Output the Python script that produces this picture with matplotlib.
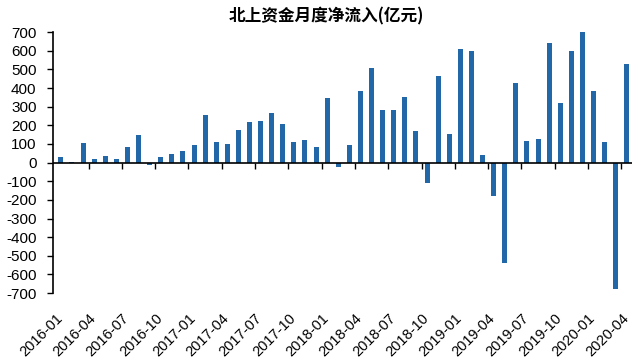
import matplotlib
matplotlib.use("Agg")
import matplotlib.pyplot as plt
import matplotlib.transforms as mtransforms
import numpy as np

# monthly net northbound inflow, 2016-01 .. 2020-04 (100 million yuan)
months = ["%d-%02d" % (y, m) for y in range(2016, 2021) for m in range(1, 13)][:52]
inflow = [32, 2, 104, 20, 38, 20, 86, 147, -14, 32, 47, 65,
          93, 257, 108, 99, 176, 219, 223, 266, 205, 113, 124, 84,
          346, -25, 93, 386, 506, 282, 282, 352, 171, -107, 467, 156,
          607, 601, 41, -180, -536, 425, 118, 129, 644, 320, 601, 700,
          382, 113, -677, 531]

title = "北上资金月度净流入(亿元)"
yticks = list(range(-700, 701, 100))

plt.rcParams['font.family'] = ['Liberation Sans', 'DejaVu Sans']

fig = plt.figure(figsize=(6.4, 3.61), dpi=100)
ax = fig.add_axes([0.083, 0.188, 0.905, 0.723])

x = np.arange(len(months))
ax.bar(x, inflow, width=0.45, color='#2268A8', zorder=2)

ax.set_xlim(-0.7, 51.5)
ax.set_ylim(-700, 700)
ax.set_yticks(yticks)
ax.set_yticklabels([str(v) for v in yticks])
ax.tick_params(axis='y', direction='out', length=4, width=1, pad=8, labelsize=11)

# labels every 3 months at the bottom
lab_idx = list(range(0, 52, 3))
ax.set_xticks(lab_idx)
ax.set_xticklabels([months[i] for i in lab_idx], rotation=45, ha='right',
                   va='top', rotation_mode='anchor')
ax.tick_params(axis='x', length=0, pad=13, labelsize=10.5)
shift = mtransforms.ScaledTranslation(-4 / 72, 0, fig.dpi_scale_trans)
for lab in ax.get_xticklabels():
    lab.set_transform(lab.get_transform() + shift)

for s in ['top', 'right', 'bottom']:
    ax.spines[s].set_visible(False)
ax.spines['left'].set_linewidth(1.2)

# zero line with tick marks between quarters
ax.axhline(0, color='black', lw=1.2, zorder=3)
sec = ax.secondary_xaxis(0.5)
for s in sec.spines.values():
    s.set_visible(False)
sec.xaxis.set_ticks_position('bottom')
sec.set_xticks(np.arange(2.5, 51, 3), labels=[''] * 17)
sec.tick_params(axis='x', direction='out', length=4, width=1,
                labelbottom=False, labeltop=False)

fig.text(0.51, 0.955, title, ha='center', va='center', fontsize=12,
         fontweight='bold', family=['Noto Sans CJK SC', 'DejaVu Sans'])

fig.savefig("out.png", dpi=100)
